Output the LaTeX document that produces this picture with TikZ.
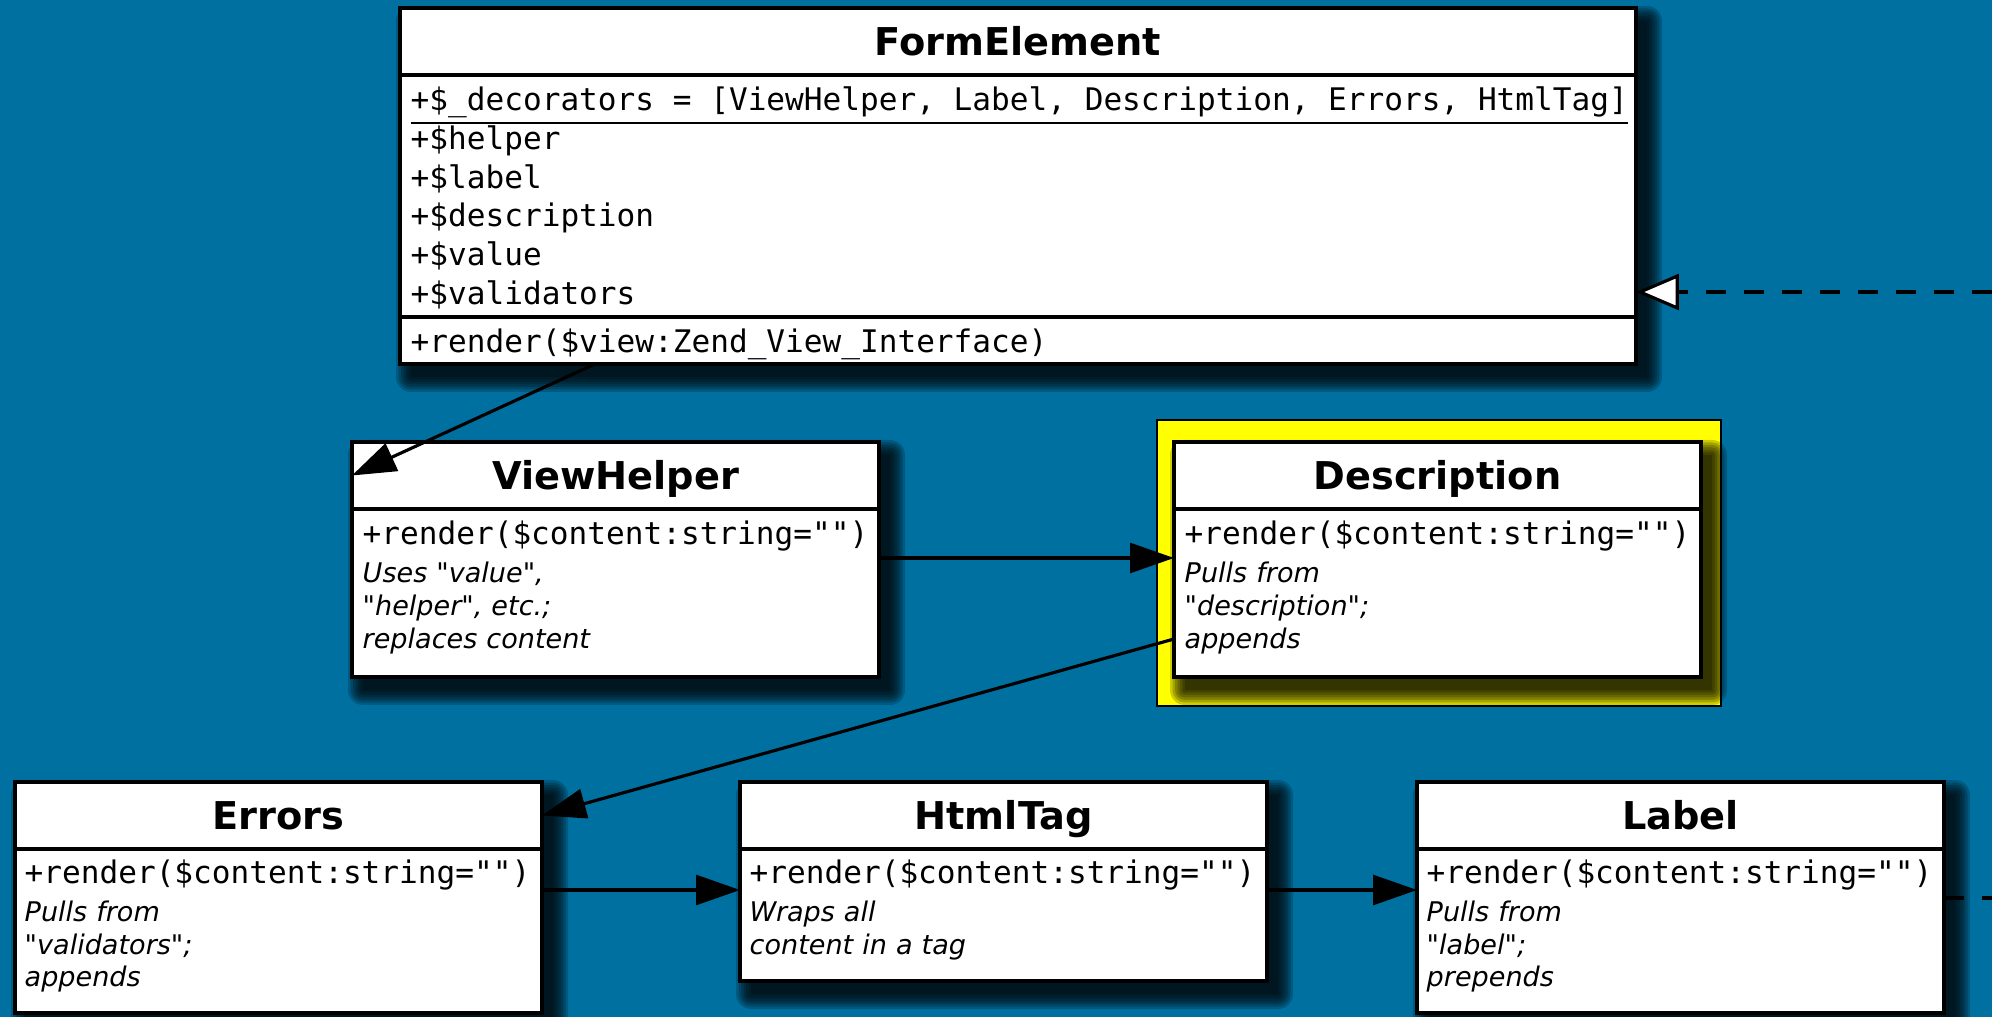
\documentclass[tikz,border=0pt]{standalone}
\usepackage{fontspec}
\setmainfont{DejaVu Sans}[Ligatures=TeXOff]
\setmonofont{DejaVu Sans Mono}
\usepackage{tikz}
\usetikzlibrary{arrows.meta,positioning,calc}
\definecolor{deskblue}{HTML}{0070A0}
\definecolor{hiyellow}{HTML}{FFFF00}
\pgfdeclarelayer{backdrop}
\pgfdeclarelayer{shade}
\pgfsetlayers{backdrop,shade,main}
\newcommand{\membermono}{\fontsize{8.85}{9.3}\selectfont\ttfamily\upshape}

\tikzset{
  umltitle/.style={rectangle,draw=black,line width=1.1pt,fill=white,inner sep=0pt,outer sep=0pt,
    minimum width=5.27cm,minimum height=0.67cm,text height=7.9pt,text depth=0pt,
    font=\fontsize{10.9}{13}\selectfont\bfseries},
  umlpart/.style={rectangle,draw=black,line width=1.1pt,fill=white,inner sep=0pt,outer sep=0pt,
    minimum width=5.27cm,minimum height=1.66cm},
  umltext/.style={anchor=north west,inner sep=0pt,text width=5.1cm,align=left,
    font=\fontsize{7.7}{9.3}\selectfont\itshape},
  callsnext/.style={-{Triangle[length=12.5pt,width=8.5pt]},line width=0.9pt},
  realizes/.style={-{Triangle[open,fill=white,length=12.2pt,width=10.2pt]},line width=0.9pt,
    dash pattern=on 5.7pt off 5.1pt},
}

\begin{document}
\begin{tikzpicture}
\useasboundingbox (0,0) rectangle (19.92,-10.17);
\begin{pgfonlayer}{backdrop}
  \fill[deskblue] (0,0) rectangle (19.92,-10.17);
\end{pgfonlayer}

% the element with its list of decorators
\node[umltitle,minimum width=12.36cm,anchor=north west] (fe) at (4.00,-0.08) {FormElement};
\node[umlpart,minimum width=12.36cm,minimum height=2.42cm,below=0pt of fe] (fe-attr) {};
\node[umlpart,minimum width=12.36cm,minimum height=0.47cm,below=0pt of fe-attr] (fe-ops) {};
\node[umltext,text width=12.2cm,font=\membermono\fontsize{8.85}{11}\selectfont] (fe-attr-txt)
  at ([xshift=0.10cm]fe-attr.north west) {\spaceskip=0.602em\relax
  \rule{0pt}{10pt}\underline{+\$\_decorators = [ViewHelper, Label, Description, Errors, HtmlTag]}\\
  +\$helper\\
  +\$label\\
  +\$description\\
  +\$value\\
  +\$validators};
\node[umltext,text width=12.2cm,font=\membermono] (fe-ops-txt)
  at ([xshift=0.10cm]fe-ops.north west) {\rule{0pt}{10pt}+render(\$view:Zend\_View\_Interface)};

% decorators
\node[umltitle,anchor=north west] (vh) at (3.52,-4.42) {ViewHelper};
\node[umlpart,minimum height=1.68cm,below=0pt of vh] (vh-body) {};
\node[umltext] (vh-txt) at ([xshift=0.10cm]vh-body.north west)
  {{\membermono\rule{0pt}{10pt}+render(\$content:string="")}\\[1.5pt]
  Uses "value",\\
  "helper", etc.;\\
  replaces content};

\node[umltitle,anchor=north west] (desc) at (11.74,-4.42) {Description};
\node[umlpart,minimum height=1.68cm,below=0pt of desc] (desc-body) {};
\node[umltext] (desc-txt) at ([xshift=0.10cm]desc-body.north west)
  {{\membermono\rule{0pt}{10pt}+render(\$content:string="")}\\[1.5pt]
  Pulls from\\
  "description";\\
  appends};

\node[umltitle,anchor=north west] (err) at (0.15,-7.82) {Errors};
\node[umlpart,minimum height=1.64cm,below=0pt of err] (err-body) {};
\node[umltext] (err-txt) at ([xshift=0.09cm]err-body.north west)
  {{\membermono\rule{0pt}{9.6pt}+render(\$content:string="")}\\[1.5pt]
  Pulls from\\
  "validators";\\
  appends};

\node[umltitle,anchor=north west] (ht) at (7.40,-7.82) {HtmlTag};
\node[umlpart,minimum height=1.32cm,below=0pt of ht] (ht-body) {};
\node[umltext] (ht-txt) at ([xshift=0.09cm]ht-body.north west)
  {{\membermono\rule{0pt}{9.6pt}+render(\$content:string="")}\\[1.5pt]
  Wraps all\\
  content in a tag};

\node[umltitle,anchor=north west] (lbl) at (14.17,-7.82) {Label};
\node[umlpart,minimum height=1.64cm,below=0pt of lbl] (lbl-body) {};
\node[umltext] (lbl-txt) at ([xshift=0.09cm]lbl-body.north west)
  {{\membermono\rule{0pt}{9.6pt}+render(\$content:string="")}\\[1.5pt]
  Pulls from\\
  "label";\\
  prepends};

% highlight and soft shadows
\begin{pgfonlayer}{shade}
  \draw[fill=hiyellow,line width=0.6pt] ([shift={(-0.17,0.22)}]desc.north west) rectangle ([shift={(0.20,-0.29)}]desc-body.south east);
  \foreach \top/\bottom in {fe/fe-ops,vh/vh-body,desc/desc-body,err/err-body,ht/ht-body,lbl/lbl-body}
    \foreach \grow in {0.0,0.025,0.05,0.075,0.10,0.125,0.15}
      \fill[black,opacity=0.2,rounded corners=\grow cm]
        ([shift={(0.11-\grow,-0.13+\grow)}]\top.north west) rectangle ([shift={(0.11+\grow,-0.13-\grow)}]\bottom.south east);
\end{pgfonlayer}

% chain of calls
\coordinate (fe-impl) at (19.92,-2.92);
\coordinate (lbl-out) at (19.92,-8.98);
\draw[callsnext] ([xshift=1.95cm]fe-ops.south west) -- (vh.west);
\draw[callsnext] ([yshift=0.35cm]vh-body.east) -- ([yshift=0.35cm]desc-body.west);
\draw[callsnext] ([yshift=-0.46cm]desc-body.west) -- (err.east);
\draw[callsnext] ([yshift=0.41cm]err-body.east) coordinate (err-out) -- (err-out -| ht-body.west);
\draw[callsnext] (err-out -| ht-body.east) -- (err-out -| lbl-body.west);
\draw[line width=0.9pt,dash pattern=on 5.7pt off 5.1pt] (lbl-out -| lbl-body.east) -- (lbl-out);
\draw[realizes] (fe-impl) -- (fe-impl -| fe-attr.east);
\end{tikzpicture}
\end{document}
